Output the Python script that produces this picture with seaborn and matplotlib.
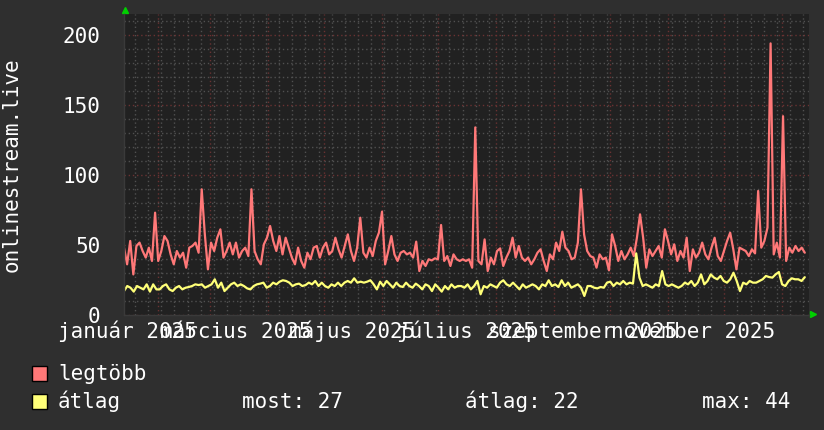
import numpy as np
import pandas as pd
import matplotlib
matplotlib.use("Agg")
import matplotlib.pyplot as plt
import matplotlib.dates as mdates
from matplotlib.ticker import MultipleLocator, NullFormatter
from matplotlib.patches import Rectangle
import seaborn as sns

legtobb = [
    48.1, 36.2, 52.9, 29.0, 49.3, 51.7, 45.7, 41.0, 48.1, 38.6,
    73.1, 38.6, 45.7, 56.4, 52.9, 43.3, 36.2, 45.7, 41.0, 44.5,
    33.8, 48.1, 49.3, 51.7, 44.5, 89.8, 57.6, 32.6, 51.7, 45.7,
    55.2, 61.2, 41.0, 45.7, 51.7, 43.3, 51.7, 41.0, 45.7, 48.1,
    42.1, 89.8, 45.7, 39.8, 36.2, 50.5, 55.2, 63.6, 52.9, 45.7,
    56.4, 43.3, 55.2, 48.1, 41.0, 36.2, 48.1, 38.6, 33.8, 44.5,
    39.8, 48.1, 49.3, 41.0, 48.1, 51.7, 43.3, 45.7, 55.2, 46.9,
    41.0, 49.3, 57.6, 45.7, 38.6, 48.1, 69.5, 44.5, 41.0, 48.1,
    42.1, 52.9, 58.8, 73.8, 36.2, 45.7, 56.4, 43.3, 38.6, 44.5,
    45.7, 43.3, 44.5, 41.0, 52.4, 31.4, 38.6, 35.0, 39.8, 39.0,
    40.5, 39.8, 64.3, 38.6, 42.1, 35.0, 43.3, 39.8, 38.6, 39.8,
    38.6, 39.8, 33.8, 134.0, 38.6, 36.2, 54.0, 31.4, 41.0, 36.2,
    45.7, 47.6, 35.0, 41.0, 45.7, 55.2, 41.0, 49.3, 41.0, 38.6,
    41.0, 36.2, 39.8, 44.5, 46.9, 38.6, 31.4, 43.3, 39.8, 51.7,
    45.7, 59.5, 48.1, 45.7, 39.8, 41.0, 51.7, 89.8, 57.6, 45.7,
    42.1, 41.0, 33.8, 43.3, 39.8, 41.0, 31.9, 57.6, 49.3, 38.6,
    45.7, 39.8, 43.3, 48.1, 42.1, 55.2, 71.9, 55.2, 33.8, 46.9,
    42.1, 45.7, 49.3, 41.0, 61.2, 52.9, 43.3, 50.5, 38.6, 45.7,
    41.0, 55.2, 31.4, 46.9, 41.0, 44.5, 51.7, 43.3, 39.8, 48.1,
    55.2, 42.1, 38.6, 45.7, 52.9, 58.8, 46.9, 32.6, 48.1, 46.9,
    45.7, 42.1, 46.9, 44.0, 88.6, 48.1, 52.9, 62.4, 194.0, 43.3, 51.7,
    41.0, 142.0, 38.6, 48.1, 44.5, 49.3, 45.7, 48.1, 44.5,
]

atlag = [
    17.1, 20.7, 19.5, 16.7, 20.7, 19.5, 18.3, 21.9, 16.7, 21.9,
    18.3, 18.3, 20.7, 21.9, 18.3, 17.1, 19.5, 20.7, 18.3, 19.5,
    20.0, 20.7, 21.9, 21.4, 21.9, 19.5, 20.7, 21.9, 25.5, 19.5,
    23.1, 17.1, 19.5, 21.9, 23.1, 20.7, 21.9, 20.7, 19.0, 18.3,
    20.7, 21.9, 22.4, 23.1, 19.5, 20.7, 23.1, 21.9, 23.8, 24.8,
    24.3, 23.1, 20.7, 21.9, 22.4, 20.7, 21.4, 23.1, 21.9, 24.3,
    20.7, 23.1, 20.7, 19.5, 21.9, 20.7, 23.1, 20.7, 23.1, 24.3,
    23.1, 26.2, 23.1, 23.8, 23.1, 23.8, 24.8, 21.9, 18.3, 23.8,
    20.7, 24.3, 21.9, 19.5, 23.1, 20.7, 20.0, 23.1, 20.7, 19.5,
    22.4, 20.7, 18.3, 21.9, 20.7, 17.1, 21.9, 19.5, 16.7, 20.7,
    18.3, 21.9, 19.5, 20.7,
    20.7, 19.5, 21.9, 18.3, 20.7, 24.3, 14.8, 20.7, 19.5, 21.9,
    20.7, 19.5, 23.1, 24.8, 21.9, 20.7, 23.1, 20.7, 18.3, 21.9,
    19.5, 20.7, 21.9, 20.7, 18.3, 21.9, 20.7, 24.8, 20.7, 21.9,
    20.0, 24.8, 20.7, 23.1, 19.5, 20.7, 21.9, 19.5, 13.6, 20.7,
    20.7, 19.5, 19.0, 20.0, 19.5, 23.1, 23.8, 20.7, 23.1, 21.9,
    24.3, 21.9, 23.1, 22.4, 44.0, 26.7, 20.7, 21.9, 20.7, 19.5,
    21.9, 20.7, 31.4, 21.9, 20.7, 21.9, 20.7, 19.5, 20.7, 23.1,
    21.9, 24.3, 20.7, 23.1, 29.0, 21.9, 24.3, 29.0, 26.7, 25.5,
    27.9, 24.3, 23.1, 25.5, 30.2, 24.3, 17.1, 23.1, 21.9, 24.3,
    23.1, 23.1, 24.3, 25.5, 27.9, 27.1, 26.7, 29.0, 30.7, 21.9,
    20.7, 24.3, 26.2, 25.5, 25.5, 24.3, 27.0,
]

honap_cimkek = ["január 2025", "március 2025", "május 2025",
                "július 2025", "szeptember 2025", "november 2025"]
honap_helyek = ["2025-01-16", "2025-03-15", "2025-05-16",
                "2025-07-16", "2025-09-16", "2025-11-14"]
jelmagyarazat = ["legtöbb", "átlag"]
statisztika = ["most: 27", "átlag: 22", "max: 44"]

elso_nap = pd.Timestamp("2025-01-14")
utolso_nap = pd.Timestamp("2026-01-13")

df_max = pd.DataFrame({"ido": pd.date_range(elso_nap, utolso_nap, periods=len(legtobb)),
                       "ertek": legtobb})
df_atl = pd.DataFrame({"ido": pd.date_range(elso_nap, utolso_nap, periods=len(atlag)),
                       "ertek": atlag})

PIROS = "#ff7878"
SARGA = "#ffff78"
HATTER = "#2f2f2f"
RAJZ = "#212121"
FO_RACS = "#6a3232"
MELLEK_RACS = "#505050"

sns.set_style("dark")
plt.rcParams['font.family'] = ['DejaVu Sans Mono', 'DejaVu Sans']

fig = plt.figure(figsize=(8.24, 4.30), dpi=100, facecolor=HATTER)
ax = fig.add_axes([124/824, 115/430, 685/824, 301/430])
ax.set_facecolor(RAJZ)

sns.lineplot(data=df_max, x="ido", y="ertek", color=PIROS, lw=1.6, ax=ax)
sns.lineplot(data=df_atl, x="ido", y="ertek", color=SARGA, lw=1.6, ax=ax)

ax.set_xlim(pd.Timestamp("2025-01-14"), pd.Timestamp("2026-01-15 06:00"))
ax.set_ylim(0, 215)
ax.set_xlabel("")
ax.set_ylabel("")

ax.xaxis.set_major_locator(mdates.MonthLocator())
ax.xaxis.set_minor_locator(mdates.WeekdayLocator(byweekday=mdates.MO))
ax.xaxis.set_major_formatter(NullFormatter())
ax.yaxis.set_major_locator(MultipleLocator(50))
ax.yaxis.set_minor_locator(MultipleLocator(10))

ax.set_axisbelow(True)
ax.grid(True, which="major", color=FO_RACS, linestyle=(0, (1, 2)), lw=1)
ax.grid(True, which="minor", color=MELLEK_RACS, linestyle=(0, (1, 2)), lw=1)

ax.tick_params(axis="y", which="major", colors=FO_RACS, length=3, width=1,
               labelcolor="white", labelsize=15, pad=14)
ax.tick_params(axis="both", which="minor", colors=MELLEK_RACS, length=2, width=1)
ax.tick_params(axis="x", which="major", colors=FO_RACS, length=3, width=1)

for s in ["top", "right"]:
    ax.spines[s].set_visible(False)
for s in ["left", "bottom"]:
    ax.spines[s].set_color("#3a3a3a")
    ax.spines[s].set_linewidth(1)

for cimke, hely in zip(honap_cimkek, honap_helyek):
    ax.text(pd.Timestamp(hely), -0.055, cimke, transform=ax.get_xaxis_transform(),
            ha="center", va="center", color="white", fontsize=15, clip_on=False)

# zold nyilak a tengelyek vegen
ax.plot([0.0015], [1.013], marker="^", color="#00d000", markersize=5,
        transform=ax.transAxes, clip_on=False)
ax.plot([1.006], [0.003], marker=">", color="#00d000", markersize=5,
        transform=ax.transAxes, clip_on=False)

fig.text(12/824, 1 - 165/430, "onlinestream.live", rotation=90, ha="center",
         va="center", color="white", fontsize=15)

szinek = [PIROS, SARGA]
sorok = [1 - 380/430, 1 - 408/430]
for nev, szin, y in zip(jelmagyarazat, szinek, sorok):
    fig.patches.append(Rectangle((32/824, y - 1/430), 15/824, 15/430,
                                 transform=fig.transFigure, facecolor=szin,
                                 edgecolor="black", lw=1))
    fig.text(58/824, y, nev, color="white", fontsize=15, va="baseline")

for szoveg, x in zip(statisztika, [242, 465, 702]):
    fig.text(x/824, sorok[1], szoveg, color="white", fontsize=15, va="baseline")

fig.savefig("out.png", dpi=100, facecolor=HATTER)
